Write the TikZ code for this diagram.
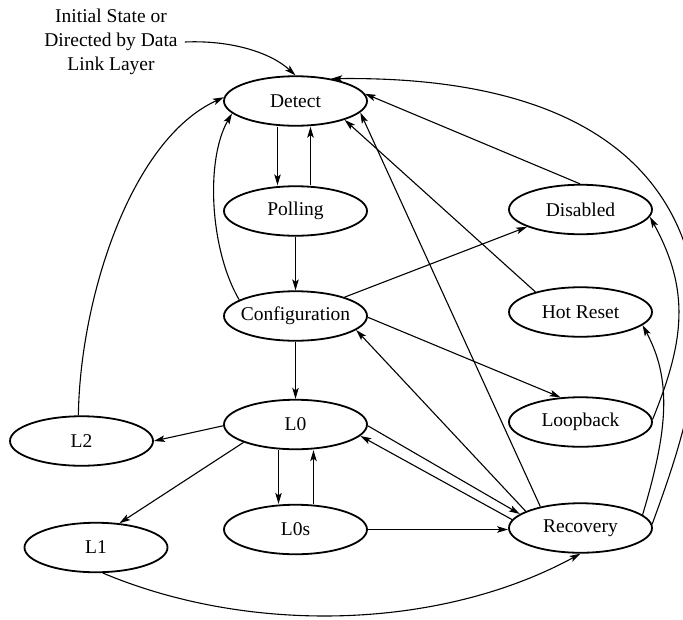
\documentclass[tikz,border=0pt]{standalone}
\usepackage{fontspec}
\setmainfont{Liberation Serif}
\usetikzlibrary{shapes.geometric,arrows.meta}
\begin{document}
\begin{tikzpicture}[x=1pt,y=-1pt,
  state/.style={ellipse,draw,line width=1.8pt,minimum width=143pt,minimum height=49.5pt,
    inner sep=0pt,font=\fontsize{19.5}{24}\selectfont},
  edge/.style={line width=1.1pt,-{Stealth[length=11pt,width=6.5pt,inset=2.5pt]}},
]
% page frame (y grows downwards)
\clip (0,0) rectangle (683,619);

% states
\node[state] (detect)   at (295.5,101)   {Detect};
\node[state] (polling)  at (295.5,211)   {Polling};
\node[state,inner xsep=-5pt] (config) at (295.5,316) {Configuration};
\node[state] (l0)       at (295.5,424.5) {L0};
\node[state] (l2)       at (81.5,441)    {L2};
\node[state] (l1)       at (96,547.5)    {L1};
\node[state] (l0s)      at (295.5,529.5) {L0s};
\node[state] (disabled) at (580.5,209.5) {Disabled};
\node[state] (hotreset) at (580.5,312)   {Hot Reset};
\node[state] (loopback) at (580.5,422)   {Loopback};
\node[state] (recovery) at (580.5,528)   {Recovery};

% entry label
\node[align=center,inner sep=0pt,font=\fontsize{19.5}{24}\selectfont] (init) at (111,41.5)
  {Initial State or\\Directed by Data\\Link Layer};
\draw[edge] ([xshift=7pt,yshift=-0.5pt]init.east) .. controls (230,40) and (270,52) .. (detect.north);

% Detect / Polling / Configuration
\draw[edge] ([xshift=-18pt]detect.south) -- ([xshift=-18pt]polling.north);
\draw[edge] ([xshift=15pt]polling.north) -- ([xshift=15pt]detect.south);
\draw[edge] (polling.south) -- (config.north);
\draw[edge] (config.164) .. controls (210,250) and (205,160) .. (detect.191);
\draw[edge] (config.south) -- (l0.north);
\draw[edge] (config.21) -- (disabled.198);
\draw[edge] (config.-1.6) -- (loopback.129);

% L0 and low power states
\draw[edge] (l0.181) -- (l2.east);
\draw[edge] (l0.199.4) -- (l1.46.7);
\draw[edge] ([xshift=-17pt]l0.south) -- ([xshift=-17pt]l0s.north);
\draw[edge] ([xshift=18pt]l0s.north) -- ([xshift=18pt]l0.south);
\draw[edge] (l2.97) .. controls (80,300) and (130,140) .. (detect.177.7);
\draw[edge] (l1.285) .. controls (250,635) and (440,630) .. (recovery.270);
\draw[edge] (l0s.east) -- (l0s.east -| recovery.west);

% L0 <-> Recovery
\draw[edge] (l0.359) -- (recovery.167);
\draw[edge] (recovery.173.7) -- (l0.350);

% back to Detect / Configuration
\draw[edge] (recovery.163) -- (config.347.8);
\draw[edge] (recovery.152) -- (detect.350.6);
\draw[edge] (hotreset.156.7) -- (detect.339);
\draw[edge] (disabled.91) -- (detect.6);
\draw[edge] (recovery.3) .. controls (672,470) and (697,400) .. (698,330)
            .. controls (699,230) and (650,75) .. (detect.32);

% right side loops
\draw[edge] (recovery.12) .. controls (668,430) and (672,380) .. (hotreset.348);
\draw[edge] (loopback.2) .. controls (685,340) and (690,290) .. (disabled.354);
\end{tikzpicture}
\end{document}
